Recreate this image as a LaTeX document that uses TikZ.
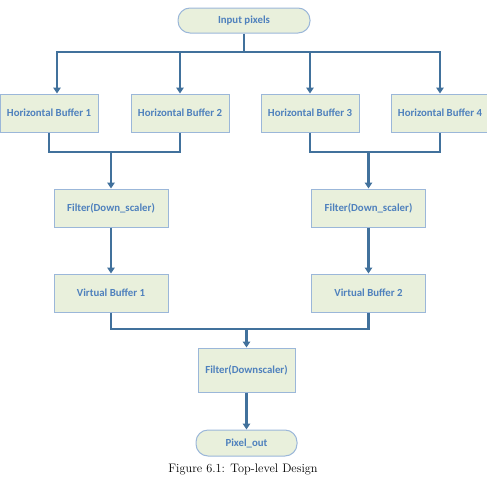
\documentclass[tikz,border=0pt]{standalone}
\usepackage{fontspec}
\newfontfamily\calfont{Carlito}
\usepackage{tikz}
\usetikzlibrary{arrows.meta,positioning,calc}
\definecolor{boxfill}{HTML}{E9F0DC}
\definecolor{boxline}{HTML}{9BB7D9}
\definecolor{boxtext}{HTML}{4F81BD}
\definecolor{wirecol}{HTML}{41719C}

\begin{document}
\begin{tikzpicture}[
  x=1pt, y=-1pt,
  font=\calfont\bfseries\fontsize{10.8}{12}\selectfont,
  >={Triangle[length=6pt, width=7.5pt]},
  term/.style={rectangle, rounded corners=12pt, draw=boxline, fill=boxfill, line width=1pt,
               text=boxtext, minimum width=132pt, minimum height=25pt, align=center},
  buf/.style={rectangle, draw=boxline, fill=boxfill, line width=1pt, text=boxtext,
              minimum width=98pt, minimum height=38pt, align=center},
  filt/.style={buf, minimum width=114pt},
  fin/.style={buf, minimum width=97pt, minimum height=44pt},
  wire/.style={line width=2.6pt, draw=wirecol},
  link/.style={wire, ->},
]
\useasboundingbox (0,0) rectangle (487,477);

\node[term] (in) at (244,20.5) {Input pixels};

\node[buf] (hb1) at (49,113) {Horizontal Buffer 1};
\node[buf, right=32pt of hb1] (hb2) {Horizontal Buffer 2};
\node[buf, right=31pt of hb2] (hb3) {Horizontal Buffer 3};
\node[buf, right=31pt of hb3] (hb4) {Horizontal Buffer 4};

\node[filt] (f1) at (111,208) {Filter(Down\_scaler)};
\node[filt] (f2) at (368.5,208) {Filter(Down\_scaler)};
\node[filt, below=46pt of f1] (vb1) {Virtual Buffer 1};
\node[filt, below=46pt of f2] (vb2) {Virtual Buffer 2};

\node[fin] (fd) at (246.5,370) {Filter(Downscaler)};
\node[term, minimum width=101pt, minimum height=26pt, below=37pt of fd] (out) {Pixel\_out};

\node[font=\rmfamily\fontsize{12.3}{14}\selectfont, text=black] (cap) at (243,469) {Figure 6.1: Top-level Design};

% bus points
\coordinate (top) at (244,52);
\coordinate (j1) at (111,152);
\coordinate (j2) at (368.5,152);
\coordinate (j3) at (246.5,329);

\draw[wire] (in) -- (top);
\draw[link] (top) -| ([xshift=8pt]hb1.north);
\draw[link] (top) -| (hb2.north);
\draw[link] (top) -| (hb3.north);
\draw[link] (top) -| (hb4.north);

\draw[wire] (hb1.south) |- (j1);
\draw[wire] (hb2.south) |- (j1);
\draw[wire] (hb3.south) |- (j2);
\draw[wire] (hb4.south) |- (j2);
\draw[link] (j1) -- (f1);
\draw[link] (j2) -- (f2);

\draw[link] (f1) -- (vb1);
\draw[link] (f2) -- (vb2);

\draw[wire] (vb1.south) |- (j3);
\draw[wire] (vb2.south) |- (j3);
\draw[link] (j3) -- (fd);
\draw[link] (fd) -- (out);

\end{tikzpicture}
\end{document}
